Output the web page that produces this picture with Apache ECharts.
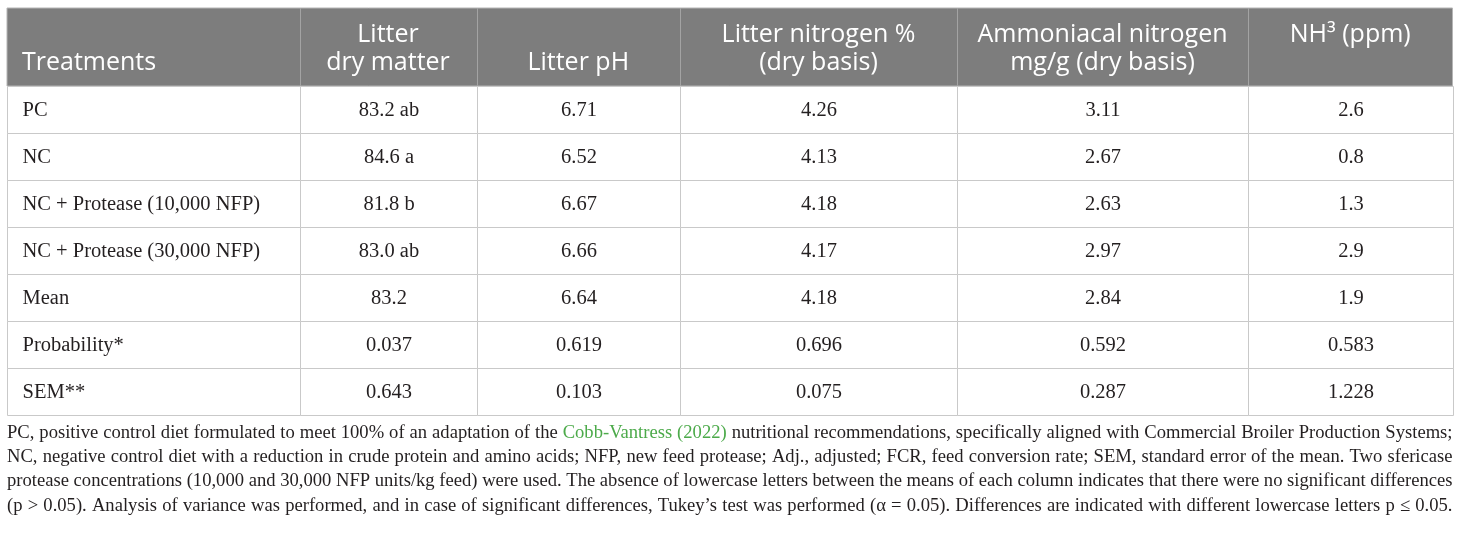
<!DOCTYPE html>
<html>
<head>
<meta charset="utf-8">
<script src="https://cdn.jsdelivr.net/npm/echarts@6/dist/echarts.min.js"></script>
<style>
  html, body { margin: 0; padding: 0; background: #fff; }
  #main { width: 1460px; height: 538px; }
</style>
</head>
<body>
<div id="main"></div>
<script>
// table data
var headers = [['Treatments'], ['Litter', 'dry matter'], ['Litter pH'], ['Litter nitrogen %', '(dry basis)'], ['Ammoniacal nitrogen', 'mg/g (dry basis)'], ['NH³ (ppm)']];
var treatments = ['PC', 'NC', 'NC + Protease (10,000 NFP)', 'NC + Protease (30,000 NFP)', 'Mean', 'Probability*', 'SEM**'];
var dryMatter = ['83.2 ab', '84.6 a', '81.8 b', '83.0 ab', '83.2', '0.037', '0.643'];
var litterPH = ['6.71', '6.52', '6.67', '6.66', '6.64', '0.619', '0.103'];
var litterN = ['4.26', '4.13', '4.18', '4.17', '4.18', '0.696', '0.075'];
var ammoniacalN = ['3.11', '2.67', '2.63', '2.97', '2.84', '0.592', '0.287'];
var nh3 = ['2.6', '0.8', '1.3', '2.9', '1.9', '0.583', '1.228'];
var footnoteLines = [
  'PC, positive control diet formulated to meet 100% of an adaptation of the Cobb-Vantress (2022) nutritional recommendations, specifically aligned with Commercial Broiler Production Systems;',
  'NC, negative control diet with a reduction in crude protein and amino acids; NFP, new feed protease; Adj., adjusted; FCR, feed conversion rate; SEM, standard error of the mean. Two sfericase',
  'protease concentrations (10,000 and 30,000 NFP units/kg feed) were used. The absence of lowercase letters between the means of each column indicates that there were no significant differences',
  '(p > 0.05). Analysis of variance was performed, and in case of significant differences, Tukey\u2019s test was performed (\u03b1 = 0.05). Differences are indicated with different lowercase letters p \u2264 0.05.'
];
var linkWords = ['Cobb-Vantress', '(2022)'];

// layout
var colWidths = [292.5, 177, 203.5, 277, 291, 204.5];
var headerValign = ['bottom', 'bottom', 'bottom', 'bottom', 'bottom', 'top'];
var tableLeft = 7, headerTop = 8, headerBottom = 86, tableBottom = 415;
var serif = '"Liberation Serif", "DejaVu Serif", serif';
var sans = '"Open Sans", "Noto Sans", sans-serif';
var textColor = '#231f20';
var lineColor = '#c9c9c9';

var totalWidth = colWidths.reduce(function (a, b) { return a + b; }, 0);
var colStart = [0];
colWidths.forEach(function (w, i) { colStart.push(colStart[i] + w); });

var columns = [treatments, dryMatter, litterPH, litterN, ammoniacalN, nh3];
var cellData = [], cellText = [];
columns.forEach(function (col, c) {
  col.forEach(function (v, r) {
    cellData.push([c, r]);
    cellText.push(v);
  });
});

function renderCell(params, api) {
  var c = api.value(0), r = api.value(1);
  var cs = params.coordSys;
  var mid = api.coord([c, r]);
  var h = api.size([0, 1])[1];
  var x0 = Math.round(cs.x + colStart[c] / totalWidth * cs.width) + 0.5;
  var x1 = Math.round(cs.x + colStart[c + 1] / totalWidth * cs.width) + 0.5;
  var y0 = Math.round(mid[1] - h / 2) + 0.5;
  var y1 = Math.round(mid[1] + h / 2) + 0.5;
  return {
    type: 'group',
    children: [{
      type: 'rect',
      shape: { x: x0, y: y0, width: x1 - x0, height: y1 - y0 },
      style: { fill: '#fff', stroke: lineColor, lineWidth: 1 }
    }, {
      type: 'text',
      style: {
        text: cellText[params.dataIndex],
        x: c === 0 ? x0 + 15 : (x0 + x1) / 2,
        y: mid[1] + 1,
        align: c === 0 ? 'left' : 'center',
        verticalAlign: 'middle',
        font: '20.5px ' + serif,
        fill: textColor
      }
    }]
  };
}

// header graphics
var graphics = [];
graphics.push({
  type: 'rect',
  shape: { x: tableLeft, y: headerTop, width: totalWidth, height: headerBottom - headerTop },
  style: { fill: '#7d7d7d', stroke: '#b5b5b5', lineWidth: 1 }
});
headers.forEach(function (lines, c) {
  var x0 = tableLeft + colStart[c], x1 = tableLeft + colStart[c + 1];
  if (c > 0) {
    graphics.push({
      type: 'line',
      shape: { x1: Math.round(x0) + 0.5, y1: headerTop, x2: Math.round(x0) + 0.5, y2: headerBottom },
      style: { stroke: '#a3a3a3', lineWidth: 1 }
    });
  }
  var ys = lines.length === 2 ? [35, 63] : (headerValign[c] === 'top' ? [35] : [63]);
  lines.forEach(function (t, i) {
    graphics.push({
      type: 'text',
      style: {
        text: t,
        x: c === 0 ? x0 + 15 : (x0 + x1) / 2,
        y: ys[i],
        align: c === 0 ? 'left' : 'center',
        verticalAlign: 'middle',
        font: '25px ' + sans,
        fill: '#ffffff'
      }
    });
  });
});

// footnote, justified word by word
var measureCtx = document.createElement('canvas').getContext('2d');
var noteFont = '18.6px ' + serif;
measureCtx.font = noteFont;
footnoteLines.forEach(function (line, li) {
  var words = line.split(' ');
  var widths = words.map(function (w) { return measureCtx.measureText(w).width; });
  var sum = widths.reduce(function (a, b) { return a + b; }, 0);
  var gap = (totalWidth - sum) / (words.length - 1);
  var x = tableLeft;
  words.forEach(function (w, i) {
    graphics.push({
      type: 'text',
      style: {
        text: w,
        x: x,
        y: 433 + li * 24.3,
        align: 'left',
        verticalAlign: 'middle',
        font: noteFont,
        fill: linkWords.indexOf(w) >= 0 && li === 0 ? '#4caa4a' : textColor
      }
    });
    x += widths[i] + gap;
  });
});

var chart = echarts.init(document.getElementById('main'));
var option = {
  animation: false,
  backgroundColor: '#fff',
  grid: { left: tableLeft, top: headerBottom, width: totalWidth, height: tableBottom - headerBottom },
  xAxis: { type: 'category', data: headers.map(function (h) { return h.join(' '); }), show: false },
  yAxis: { type: 'category', data: treatments, inverse: true, show: false },
  graphic: graphics,
  series: [{
    type: 'custom',
    renderItem: renderCell,
    data: cellData,
    silent: true
  }]
};
chart.setOption(option);
</script>
</body>
</html>
